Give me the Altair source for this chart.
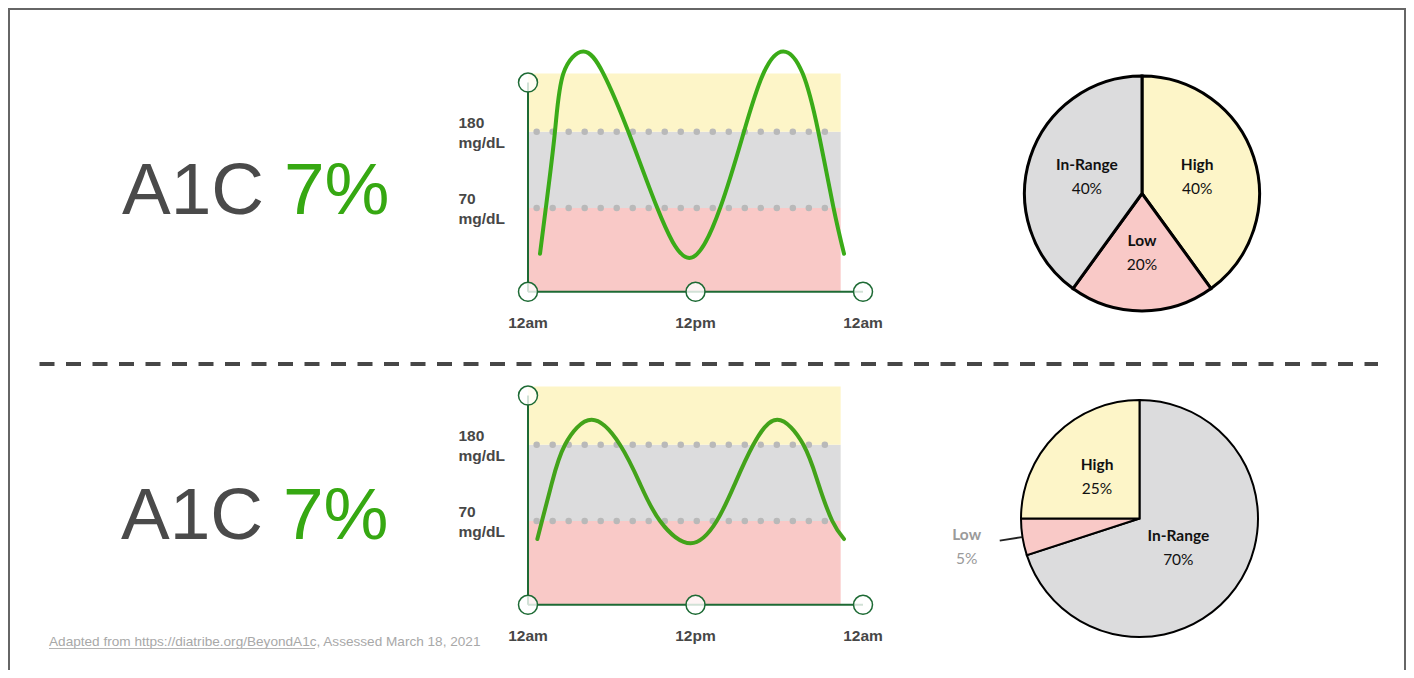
import math
import altair as alt
import pandas as pd

# ---------------- data ----------------
TICK_HOURS = [0, 12, 24]
TICK_LABELS = ["12am", "12pm", "12am"]

BAND_NAMES = ["Low", "In-Range", "High"]
BAND_LO = [-51, 70, 180]
BAND_HI = [70, 180, 264]
BAND_END_HOUR = 22.4
DOT_START_HOUR = 0.62

THRESHOLDS = [180, 70]
THRESHOLD_LABELS = ["180", "70"]
AXIS_TOP = 251
AXIS_BOTTOM = -51

CURVE1_HOURS = [0.86, 1.29, 1.93, 2.53, 3.96, 5.40, 7.19, 9.22, 11.56,
                13.80, 15.47, 16.86, 18.29, 19.68, 20.80, 21.87, 22.64]
CURVE1_MG = [4, 72, 180, 264, 296, 264, 180, 72, -2,
             72, 180, 264, 296, 264, 180, 72, 4]

CURVE2_HOURS = [0.67, 1.0, 1.70, 2.65, 4.56, 6.59, 8.02, 9.46, 11.65,
                13.52, 14.83, 16.14, 17.86, 19.73, 20.80, 21.80, 22.64]
CURVE2_MG = [44, 70, 124, 180, 216, 180, 124, 70, 38,
             70, 124, 180, 216, 180, 124, 70, 44]

PIE1_CATS = ["High", "Low", "In-Range"]
PIE1_PCT = [40, 20, 40]
PIE2_CATS = ["In-Range", "Low", "High"]
PIE2_PCT = [70, 5, 25]

A1C_LABEL = "A1C"
A1C_VALUE = "7%"
FOOTNOTE = "Adapted from https://diatribe.org/BeyondA1c, Assessed March 18, 2021"

# ---------------- layout / style ----------------
W, H = 1398, 662
BAND_COLORS = ["#f9c9c7", "#dcdcdd", "#fdf5c8"]
AXIS_GREEN = "#1d6a34"
LABEL_GRAY = "#474747"
K = 0.693  # px per mg/dL

X_SCALE = alt.Scale(domain=[0, 24], range=[520, 855], zero=False, nice=False)
THETA = alt.Scale(domain=[0, 100], range=[0, 2 * math.pi], zero=False, nice=False)
COLOR = alt.Color("name:N", scale=alt.Scale(domain=BAND_NAMES, range=BAND_COLORS), legend=None)


def y_scale(p70):
    lo, hi = -60, 310
    return alt.Scale(domain=[lo, hi], range=[p70 + (70 - lo) * K, p70 - (hi - 70) * K],
                     zero=False, nice=False)


def one():
    return pd.DataFrame({"k": [0]})


def glucose_panel(hours, mg, p70, curve_color, interp):
    ys = y_scale(p70)
    bands = pd.DataFrame({"name": BAND_NAMES, "lo": BAND_LO, "hi": BAND_HI})
    bands["h0"] = 0
    bands["h1"] = BAND_END_HOUR
    band_layer = alt.Chart(bands).mark_rect().encode(
        x=alt.X("h0:Q", scale=X_SCALE, axis=None), x2="h1:Q",
        y=alt.Y("lo:Q", scale=ys, axis=None), y2="hi:Q",
        color=COLOR,
    )
    th = pd.DataFrame({"v": THRESHOLDS, "lbl": THRESHOLD_LABELS})
    th["h0"] = DOT_START_HOUR
    th["h1"] = BAND_END_HOUR
    dots = alt.Chart(th).mark_rule(strokeDash=[0.01, 16], strokeCap="round", strokeWidth=6.5,
                                   color="#b9b9b9").encode(
        x=alt.X("h0:Q", scale=X_SCALE, axis=None), x2="h1:Q",
        y=alt.Y("v:Q", scale=ys, axis=None),
    )
    vax = alt.Chart(pd.DataFrame({"h": [0], "lo": [AXIS_BOTTOM], "hi": [AXIS_TOP]})).mark_rule(
        color=AXIS_GREEN, strokeWidth=2).encode(
        x=alt.X("h:Q", scale=X_SCALE, axis=None),
        y=alt.Y("lo:Q", scale=ys, axis=None), y2="hi:Q",
    )
    hax = alt.Chart(pd.DataFrame({"h0": [TICK_HOURS[0]], "h1": [TICK_HOURS[-1]], "v": [AXIS_BOTTOM]})).mark_rule(
        color=AXIS_GREEN, strokeWidth=2).encode(
        x=alt.X("h0:Q", scale=X_SCALE, axis=None), x2="h1:Q",
        y=alt.Y("v:Q", scale=ys, axis=None),
    )
    circ = pd.DataFrame({"h": [0] + TICK_HOURS, "v": [AXIS_TOP] + [AXIS_BOTTOM] * len(TICK_HOURS)})
    circles = alt.Chart(circ).mark_point(shape="circle", filled=True, fill="white", fillOpacity=0.8,
                                         stroke=AXIS_GREEN, strokeWidth=1.5, size=361, opacity=1).encode(
        x=alt.X("h:Q", scale=X_SCALE, axis=None),
        y=alt.Y("v:Q", scale=ys, axis=None),
    )
    curve = alt.Chart(pd.DataFrame({"h": hours, "v": mg})).mark_line(
        interpolate=interp, strokeWidth=4, color=curve_color, strokeCap="round").encode(
        x=alt.X("h:Q", scale=X_SCALE, axis=None),
        y=alt.Y("v:Q", scale=ys, axis=None),
    )
    tk = pd.DataFrame({"h": TICK_HOURS, "lbl": TICK_LABELS, "v": AXIS_BOTTOM})
    ticks = alt.Chart(tk).mark_text(dy=36, baseline="alphabetic", align="center", font="Liberation Sans",
                                    fontWeight="bold", fontSize=15.5, color=LABEL_GRAY).encode(
        x=alt.X("h:Q", scale=X_SCALE, axis=None),
        y=alt.Y("v:Q", scale=ys, axis=None),
        text="lbl:N",
    )
    ylab1 = alt.Chart(th).mark_text(dy=-4, baseline="alphabetic", align="left", font="Liberation Sans",
                                    fontWeight="bold", fontSize=15.5, color=LABEL_GRAY).encode(
        x=alt.value(450.5), y=alt.Y("v:Q", scale=ys, axis=None), text="lbl:N")
    ylab2 = alt.Chart(th).mark_text(dy=16, baseline="alphabetic", align="left", font="Liberation Sans",
                                    fontWeight="bold", fontSize=15.5, color=LABEL_GRAY, text="mg/dL").encode(
        x=alt.value(450.5), y=alt.Y("v:Q", scale=ys, axis=None))
    return alt.layer(band_layer, dots, vax, hax, circles, curve, ticks, ylab1, ylab2)


def pie_df(cats, pct):
    df = pd.DataFrame({"name": cats, "pct": pct})
    df["end"] = df["pct"].cumsum()
    df["start"] = df["end"] - df["pct"]
    df["mid"] = (df["start"] + df["end"]) / 2
    df["lbl"] = df["pct"].astype(str) + "%"
    return df


def pie_arcs(df, cx, cy, r, sw):
    return alt.Chart(df).mark_arc(radius=r, stroke="black", strokeWidth=sw).encode(
        theta=alt.Theta("start:Q", scale=THETA, stack=False), theta2="end:Q",
        color=COLOR, x=alt.value(cx), y=alt.value(cy),
    )


def pie_labels(df, cx, cy, rl, color):
    base = alt.Chart(df)
    enc = dict(theta=alt.Theta("mid:Q", scale=THETA, stack=False), x=alt.value(cx), y=alt.value(cy))
    t1 = base.mark_text(radius=rl, dy=-6, baseline="alphabetic", align="center", font="Lato",
                        fontWeight="bold", fontSize=15.5, color=color).encode(text="name:N", **enc)
    t2 = base.mark_text(radius=rl, dy=18, baseline="alphabetic", align="center", font="Lato",
                        fontSize=15.5, color=color).encode(text="lbl:N", **enc)
    return [t1, t2]


# ---------- pies ----------
P1 = pie_df(PIE1_CATS, PIE1_PCT)
P2 = pie_df(PIE2_CATS, PIE2_PCT)
C1 = (1134, 185.5, 117.5)
C2 = (1131.5, 510.5, 118.5)

pie_layers = [pie_arcs(P1, C1[0], C1[1], C1[2], 3)]
pie_layers += pie_labels(P1, C1[0], C1[1], 58, "#111111")
pie_layers.append(pie_arcs(P2, C2[0], C2[1], C2[2], 2))
pie_layers += pie_labels(P2[P2["name"] == "High"], C2[0], C2[1], 60, "#111111")
pie_layers += pie_labels(P2[P2["name"] == "In-Range"], C2[0], C2[1], 48, "#111111")
pie_layers += pie_labels(P2[P2["name"] == "Low"], C2[0], C2[1], 175, "#9a9a9a")

low_mid = float(P2.loc[P2["name"] == "Low", "mid"].iloc[0]) / 100 * 2 * math.pi
r_in, r_out = C2[2] + 0.5, C2[2] + 23
lx1 = C2[0] + r_in * math.sin(low_mid)
ly1 = C2[1] - r_in * math.cos(low_mid)
lx2 = C2[0] + r_out * math.sin(low_mid)
ly2 = C2[1] - r_out * math.cos(low_mid)
leader = alt.Chart(one()).mark_rule(color="#222222", strokeWidth=2).encode(
    x=alt.value(lx1), y=alt.value(ly1), x2=alt.value(lx2), y2=alt.value(ly2))
pies = alt.layer(*pie_layers, leader)

# ---------- glucose panels ----------
row1 = glucose_panel(CURVE1_HOURS, CURVE1_MG, 200, "#3aab18", "natural")
row2 = glucose_panel(CURVE2_HOURS, CURVE2_MG, 513, "#43a31a", "natural")

# ---------- texts & decorations ----------
def big_text(txt, x, y, color):
    return alt.Chart(pd.DataFrame({"t": [txt]})).mark_text(
        font="Liberation Sans", fontSize=73, color=color, align="left", baseline="alphabetic").encode(
        text="t:N", x=alt.value(x), y=alt.value(y))

texts = [
    big_text(A1C_LABEL, 114, 206, "#4a4a4a"), big_text(A1C_VALUE, 276, 206, "#36a812"),
    big_text(A1C_LABEL, 113, 531, "#4a4a4a"), big_text(A1C_VALUE, 275, 531, "#36a812"),
]

foot = alt.Chart(pd.DataFrame({"t": [FOOTNOTE]})).mark_text(
    font="Liberation Sans", fontSize=13.6, color="#a8a8a8", align="left", baseline="alphabetic").encode(
    text="t:N", x=alt.value(41), y=alt.value(638))
underline = alt.Chart(one()).mark_rule(color="#b4b4b4", strokeWidth=1).encode(
    x=alt.value(41), x2=alt.value(307), y=alt.value(640.5))

sep = alt.Chart(one()).mark_rule(color="#474747", strokeWidth=4, strokeDash=[15, 11.5]).encode(
    x=alt.value(31.5), x2=alt.value(1370), y=alt.value(356))

border = [
    alt.Chart(one()).mark_rule(color="#666666", strokeWidth=2).encode(
        x=alt.value(1), y=alt.value(0), y2=alt.value(H)),
    alt.Chart(one()).mark_rule(color="#666666", strokeWidth=2).encode(
        x=alt.value(0), x2=alt.value(W), y=alt.value(1)),
    alt.Chart(one()).mark_rule(color="#666666", strokeWidth=2).encode(
        x=alt.value(W - 1), y=alt.value(0), y2=alt.value(H)),
]

chart = alt.layer(
    *border, sep, foot, underline, *texts, row1, row2, pies
).resolve_scale(y="independent").properties(
    width=W, height=H, padding=0, autosize=alt.AutoSizeParams(type="none")
).configure_view(stroke=None)

chart.save("out.html", embed_options={"renderer": "svg", "actions": False})
